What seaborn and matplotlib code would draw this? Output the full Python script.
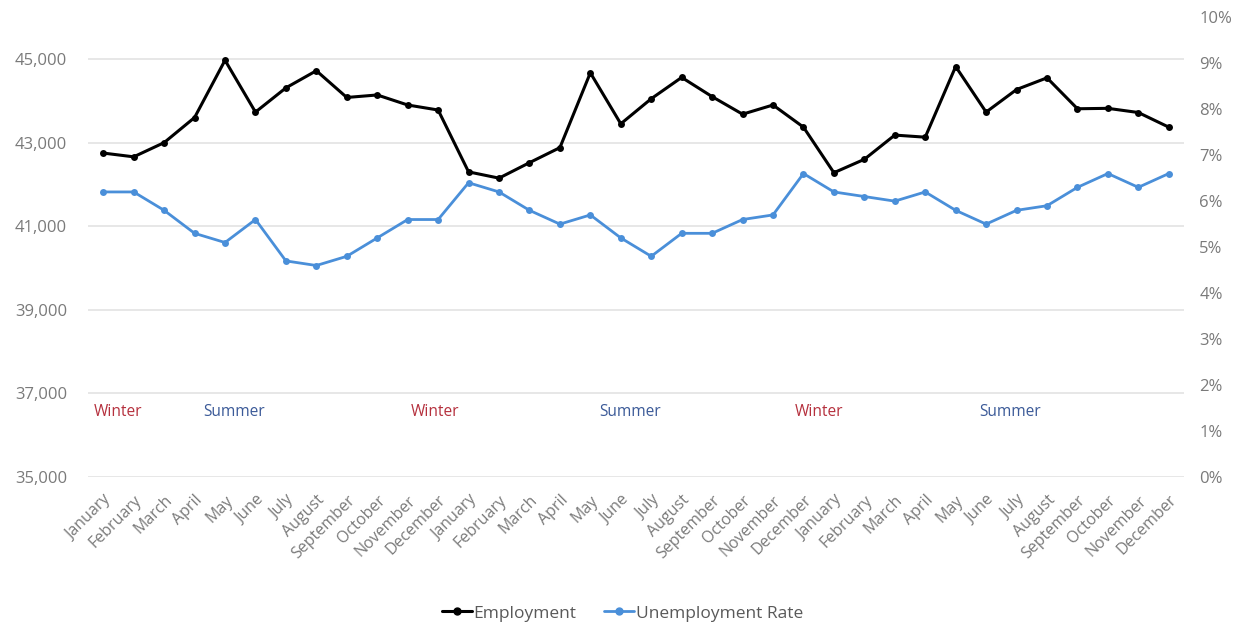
import matplotlib
matplotlib.use("Agg")
import matplotlib.pyplot as plt
import seaborn as sns
import pandas as pd
import numpy as np
from matplotlib.ticker import FuncFormatter, MultipleLocator
from matplotlib.lines import Line2D

# --- data ---
month_names = ["January", "February", "March", "April", "May", "June", "July",
               "August", "September", "October", "November", "December"]
months = month_names * 3

employment = [42750, 42660, 43000, 43600, 44970, 43730, 44310, 44720, 44080, 44140, 43900, 43780,
              42300, 42150, 42520, 42880, 44670, 43450, 44050, 44560, 44100, 43680, 43900, 43370,
              42280, 42600, 43180, 43130, 44820, 43730, 44270, 44550, 43810, 43820, 43720, 43370]

unemployment_rate = [6.2, 6.2, 5.8, 5.3, 5.1, 5.6, 4.7, 4.6, 4.8, 5.2, 5.6, 5.6,
                     6.4, 6.2, 5.8, 5.5, 5.7, 5.2, 4.8, 5.3, 5.3, 5.6, 5.7, 6.6,
                     6.2, 6.1, 6.0, 6.2, 5.8, 5.5, 5.8, 5.9, 6.3, 6.6, 6.3, 6.6]

season_labels = ["Winter", "Summer", "Winter", "Summer", "Winter", "Summer"]
season_pos = [0.5, 4.3, 10.9, 17.3, 23.5, 29.8]
season_level = 36550

df = pd.DataFrame({
    "idx": np.arange(len(months)),
    "month": months,
    "Employment": employment,
    "Unemployment Rate": unemployment_rate,
})

sns.set_theme(style="white")
plt.rcParams["font.family"] = ["Open Sans", "DejaVu Sans"]

black = "#000000"
blue = "#4a8fd9"
grey_txt = "#7a7a7a"

fig = plt.figure(figsize=(12.45, 6.26), dpi=100)
ax = fig.add_axes([0.0707, 0.238, 0.8803, 0.7345])
ax2 = ax.twinx()

sns.lineplot(data=df, x="idx", y="Employment", ax=ax, color=black, lw=2.2,
             marker="o", markersize=5, markeredgewidth=0, legend=False)
sns.lineplot(data=df, x="idx", y="Unemployment Rate", ax=ax2, color=blue, lw=2.0,
             marker="o", markersize=5, markeredgewidth=0, legend=False)

# left axis
ax.set_ylim(35000, 46000)
ax.set_yticks(np.arange(35000, 45001, 2000))
ax.yaxis.set_major_formatter(FuncFormatter(lambda v, p: f"{int(v):,}"))
ax.grid(axis="y", color="#e3e3e3", lw=1.2)
ax.grid(axis="x", visible=False)
ax.set_xlim(-0.5, len(months) - 0.5)
ax.set_xticks(df["idx"])
ax.set_xticklabels(df["month"], rotation=45, ha="right", rotation_mode="anchor")
ax.set_xlabel("")
ax.set_ylabel("")
ax.tick_params(axis="both", length=0, colors=grey_txt)
ax.tick_params(axis="x", labelsize=11.5, pad=11)
ax.tick_params(axis="y", labelsize=12, pad=15)

# right axis
ax2.set_ylim(0, 10)
ax2.yaxis.set_major_locator(MultipleLocator(1))
ax2.yaxis.set_major_formatter(FuncFormatter(lambda v, p: f"{int(round(v))}%"))
ax2.set_ylabel("")
ax2.tick_params(axis="y", length=0, labelsize=12, colors=grey_txt, pad=11)
ax2.grid(False)

for a in (ax, ax2):
    for s in a.spines.values():
        s.set_visible(False)

# season annotations
for lab, pos in zip(season_labels, season_pos):
    ax.text(pos, season_level, lab, ha="center", va="center", fontsize=11.2,
            color="#b5303d" if lab == "Winter" else "#3b5a98")

handles = [
    Line2D([0], [0], color=black, lw=2.2, marker="o", markersize=5),
    Line2D([0], [0], color=blue, lw=2.0, marker="o", markersize=5),
]
leg = fig.legend(handles, ["Employment", "Unemployment Rate"], loc="center",
                 bbox_to_anchor=(0.5, 0.02), ncol=2, frameon=False, fontsize=12.5,
                 handlelength=1.7, handletextpad=0.1, columnspacing=1.6)
for t in leg.get_texts():
    t.set_color("#595959")

fig.savefig("out.png", dpi=100)
